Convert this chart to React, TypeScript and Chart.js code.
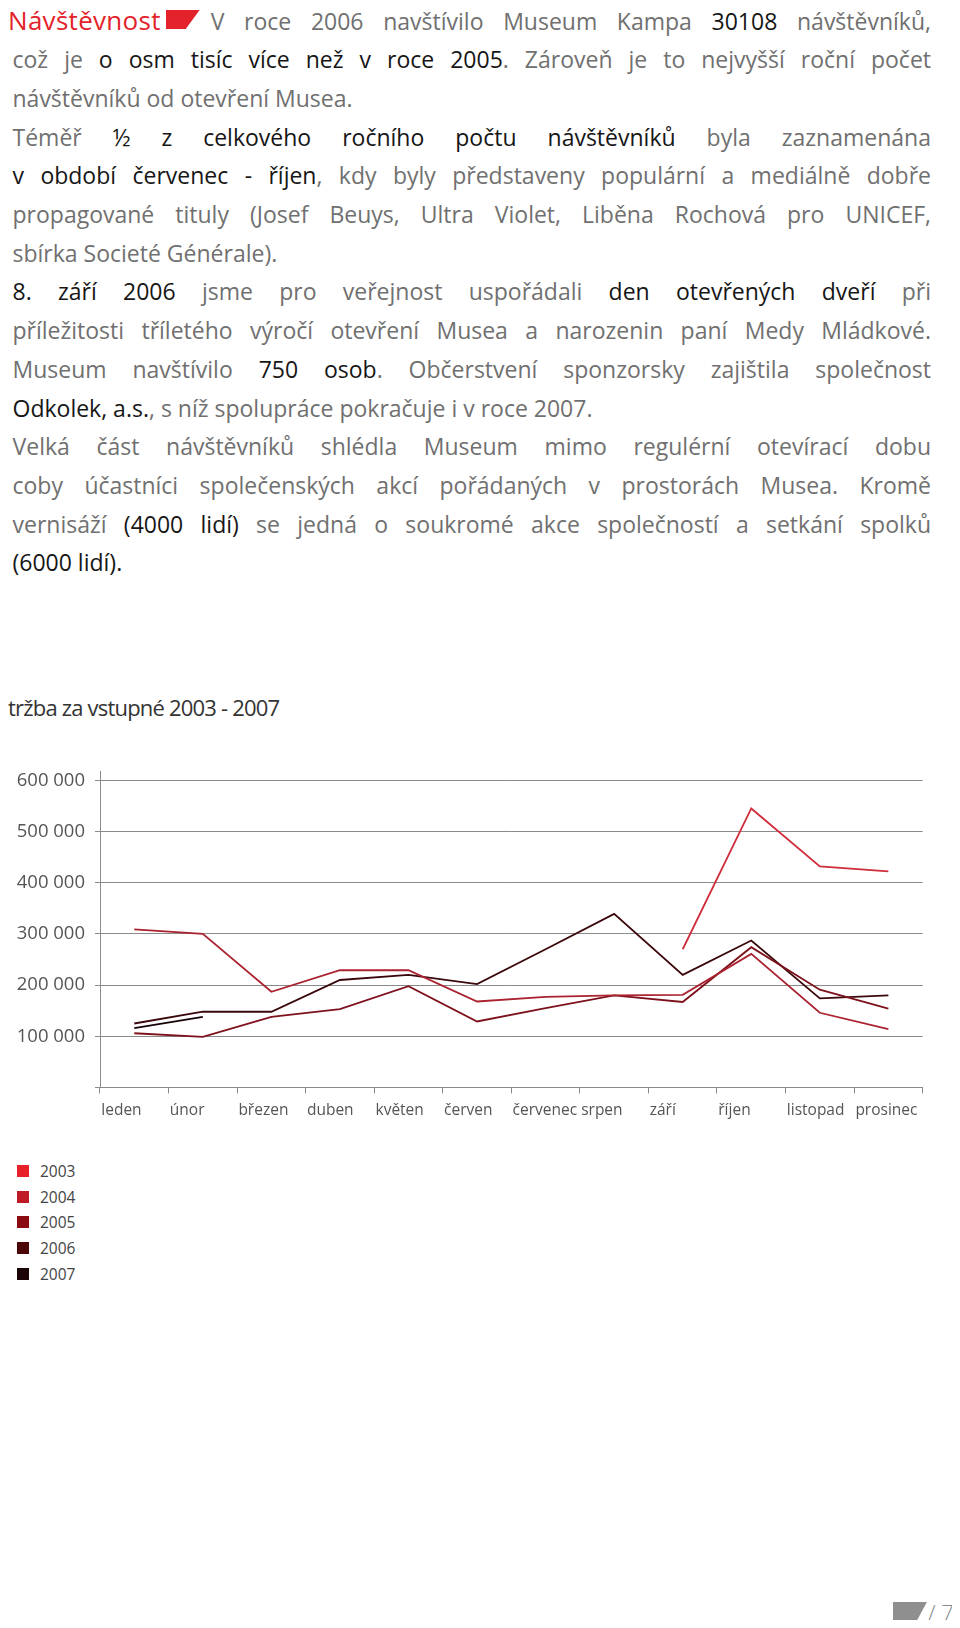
import React, { useEffect, useRef } from "react";
import { Chart, registerables } from "chart.js";

Chart.register(...registerables);

// ---------- chart data ----------
const months = ["leden", "únor", "březen", "duben", "květen", "červen", "červenec", "srpen", "září", "říjen", "listopad", "prosinec"];
const years = ["2003", "2004", "2005", "2006", "2007"];
const legendColors = ["#e8202a", "#bf1b26", "#8a0c10", "#4b0707", "#1c0406"];
const lineColors = ["#d02c3a", "#ab2230", "#7e121c", "#3a080b", "#150305"];

const rev2003 = [null, null, null, null, null, null, null, null, 270000, 545000, 432000, 422000];
const rev2004 = [309000, 300000, 187000, 229000, 229000, 168000, 177000, 180000, 181000, 261000, 146000, 114000];
const rev2005 = [106000, 99000, 138000, 153000, 198000, 129000, 155000, 180000, 167000, 274000, 191000, 154000];
const rev2006 = [125000, 148000, 148000, 210000, 220000, 202000, 270000, 339000, 220000, 287000, 174000, 180000];
const rev2007 = [116000, 138000, null, null, null, null, null, null, null, null, null, null];

const yTickValues = [0, 100000, 200000, 300000, 400000, 500000, 600000];
const yTickLabels = ["", "100 000", "200 000", "300 000", "400 000", "500 000", "600 000"];
const yMax = 618000;

const chartTitle = "tržba za vstupné 2003 - 2007";

// ---------- page text ----------
type Seg = [string, boolean];
const textLines: { segs: Seg[]; last?: boolean }[] = [
  { segs: [["V roce 2006 navštívilo Museum Kampa ", false], ["30108", true], [" návštěvníků,", false]] },
  { segs: [["což je ", false], ["o osm tisíc více než v roce 2005", true], [". Zároveň je to nejvyšší roční počet", false]] },
  { segs: [["návštěvníků od otevření Musea.", false]], last: true },
  { segs: [["Téměř ", false], ["½ z celkového ročního počtu návštěvníků", true], [" byla zaznamenána", false]] },
  { segs: [["v období červenec - říjen", true], [", kdy byly představeny populární a mediálně dobře", false]] },
  { segs: [["propagované tituly (Josef Beuys, Ultra Violet, Liběna Rochová pro UNICEF,", false]] },
  { segs: [["sbírka Societé Générale).", false]], last: true },
  { segs: [["8. září 2006", true], [" jsme pro veřejnost uspořádali ", false], ["den otevřených dveří", true], [" při", false]] },
  { segs: [["příležitosti tříletého výročí otevření Musea a narozenin paní Medy Mládkové.", false]] },
  { segs: [["Museum navštívilo ", false], ["750 osob", true], [". Občerstvení sponzorsky zajištila společnost", false]] },
  { segs: [["Odkolek, a.s.", true], [", s níž spolupráce pokračuje i v roce 2007.", false]], last: true },
  { segs: [["Velká část návštěvníků shlédla Museum mimo regulérní otevírací dobu", false]] },
  { segs: [["coby účastníci společenských akcí pořádaných v prostorách Musea. Kromě", false]] },
  { segs: [["vernisáží ", false], ["(4000 lidí)", true], [" se jedná o soukromé akce společností a setkání spolků", false]] },
  { segs: [["(6000 lidí).", true]], last: true },
];

const FONT = "'Open Sans', 'Lato', sans-serif";
const GRAY = "#707070";
const DARK = "#161616";
const LINE_H = 38.7;

function LineChart() {
  const ref = useRef<HTMLCanvasElement | null>(null);
  useEffect(() => {
    if (!ref.current) return;
    const series = [rev2003, rev2004, rev2005, rev2006, rev2007];
    const chart = new Chart(ref.current, {
      type: "line",
      data: {
        labels: months,
        datasets: years.map((y, i) => ({
          label: y,
          data: series[i],
          borderColor: lineColors[i],
          backgroundColor: lineColors[i],
          borderWidth: 1.8,
          pointRadius: 0,
          tension: 0,
          spanGaps: false,
          fill: false,
        })),
      },
      options: {
        animation: false,
        responsive: false,
        maintainAspectRatio: false,
        layout: { padding: { top: 21, right: 37, left: 0, bottom: 0 } },
        plugins: { legend: { display: false }, tooltip: { enabled: false } },
        scales: {
          x: {
            type: "category",
            offset: true,
            grid: { offset: true, drawOnChartArea: false, drawTicks: true, tickLength: 6, color: "#8a8a8a", lineWidth: 1 },
            border: { display: true, color: "#8a8a8a", width: 1 },
            ticks: {
              align: "start",
              labelOffset: -33,
              padding: 8,
              autoSkip: false,
              maxRotation: 0,
              minRotation: 0,
              color: "#555",
              font: { family: FONT, size: 15.5 },
            },
            afterFit: (scale: any) => {
              scale.height = 62.5;
            },
          },
          y: {
            min: 0,
            max: yMax,
            afterBuildTicks: (scale: any) => {
              scale.ticks = yTickValues.map((v) => ({ value: v }));
            },
            ticks: {
              callback: (_v: any, i: number) => yTickLabels[i],
              padding: 10,
              color: "#555",
              font: { family: FONT, size: 18.5 },
            },
            grid: { color: "#8a8a8a", lineWidth: 1, tickLength: 5 },
            border: { display: true, color: "#8a8a8a", width: 1 },
            afterFit: (scale: any) => {
              scale.width = 100;
            },
          },
        },
      },
    } as any);
    return () => chart.destroy();
  }, []);
  return <canvas ref={ref} width={960} height={400} style={{ position: "absolute", left: 0, top: 750, width: 960, height: 400, display: "block" }} />;
}

export default function App() {
  return (
    <div style={{ position: "relative", width: 960, height: 1628, margin: -8, overflow: "hidden", background: "#fff", fontFamily: FONT }}>
      {/* heading */}
      <div style={{ position: "absolute", left: 8, top: 1, height: LINE_H, lineHeight: `${LINE_H}px`, fontSize: 26, letterSpacing: 0.3, color: "#e3222b", whiteSpace: "nowrap" }}>
        Návštěvnost
      </div>
      <div style={{ position: "absolute", left: 166, top: 9.5, width: 34, height: 19.5, background: "#e3222b", clipPath: "polygon(0 0, 100% 0, 58% 100%, 0 100%)" }} />
      {/* paragraph lines */}
      {textLines.map((ln, i) => {
        const left = i === 0 ? 210.7 : 12.5;
        return (
          <div
            key={i}
            style={{
              position: "absolute",
              left,
              top: 1.5 + i * LINE_H,
              width: 931 - left,
              height: LINE_H,
              lineHeight: `${LINE_H}px`,
              fontSize: 23,
              color: GRAY,
              textAlign: ln.last ? "left" : "justify",
              textAlignLast: ln.last ? "left" : "justify",
              whiteSpace: "normal",
              overflow: "visible",
            } as any}
          >
            {ln.segs.map(([t, dark], j) => (
              <span key={j} style={{ color: dark ? DARK : GRAY }}>
                {t}
              </span>
            ))}
          </div>
        );
      })}
      {/* chart title */}
      <div style={{ position: "absolute", left: 8, top: 692, fontSize: 22, lineHeight: "30px", letterSpacing: -0.8, color: "#333", whiteSpace: "nowrap" }}>
        {chartTitle}
      </div>
      <LineChart />
      {/* legend */}
      <div style={{ position: "absolute", left: 17, top: 1158 }}>
        {years.map((y, i) => (
          <div key={y} style={{ display: "flex", alignItems: "center", height: 25.8 }}>
            <div style={{ width: 12, height: 12, background: legendColors[i] }} />
            <div style={{ marginLeft: 11, fontSize: 15.5, color: "#444", lineHeight: "20px" }}>{y}</div>
          </div>
        ))}
      </div>
      {/* page number */}
      <div style={{ position: "absolute", left: 893, top: 1601.7, width: 34, height: 22.3, background: "#8f8f8f", clipPath: "polygon(0 0, 100% 0, 65% 100%, 0 100%)" }} />
      <div style={{ position: "absolute", left: 928, top: 1597, fontSize: 22, fontWeight: 300, color: "#888", whiteSpace: "pre", lineHeight: "30px" }}>
        / 7
      </div>
    </div>
  );
}
